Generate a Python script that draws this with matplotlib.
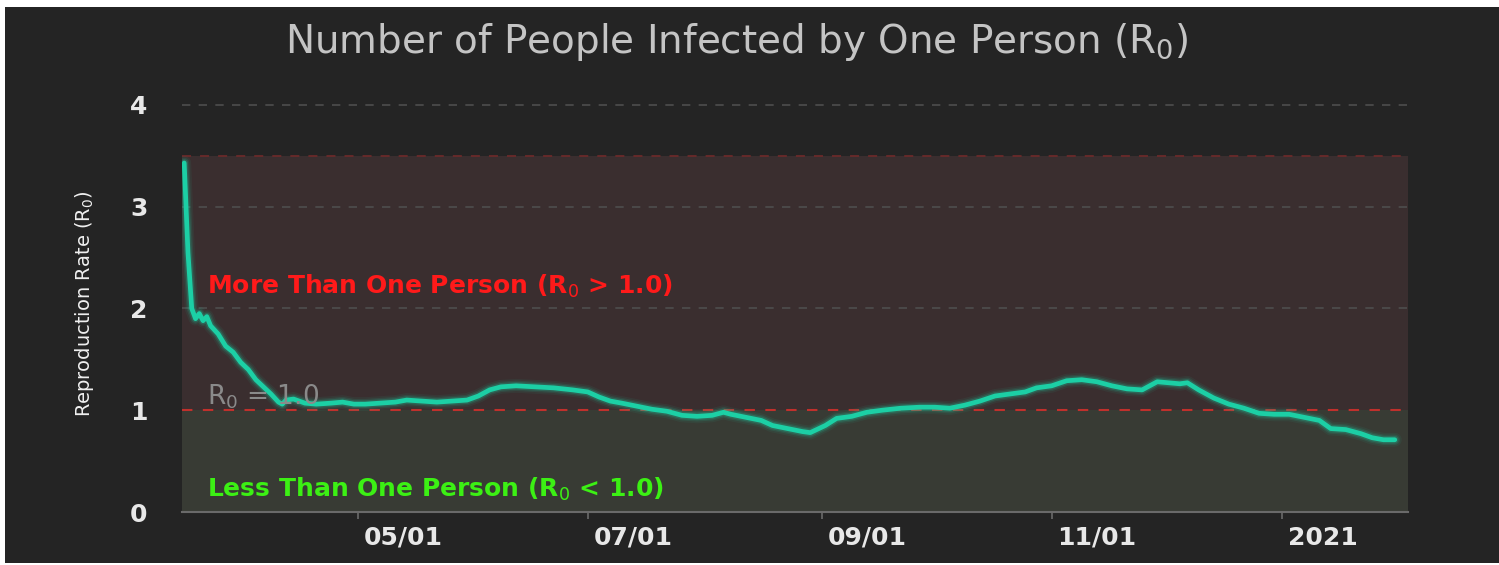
import matplotlib
matplotlib.use("Agg")
import matplotlib.pyplot as plt
from matplotlib.patches import Rectangle
from matplotlib.transforms import ScaledTranslation
import pandas as pd

dates = [
    "2020-03-16", "2020-03-17", "2020-03-18", "2020-03-19", "2020-03-20", "2020-03-21",
    "2020-03-22", "2020-03-23", "2020-03-25", "2020-03-27", "2020-03-29", "2020-03-31",
    "2020-04-02", "2020-04-04", "2020-04-06", "2020-04-08", "2020-04-10", "2020-04-11",
    "2020-04-12", "2020-04-14", "2020-04-17", "2020-04-20", "2020-04-24", "2020-04-27",
    "2020-04-30", "2020-05-03", "2020-05-07", "2020-05-11", "2020-05-14", "2020-05-18",
    "2020-05-22", "2020-05-26", "2020-05-30", "2020-06-02", "2020-06-05", "2020-06-08",
    "2020-06-12", "2020-06-17", "2020-06-22", "2020-06-27", "2020-07-01", "2020-07-04",
    "2020-07-07", "2020-07-10", "2020-07-14", "2020-07-18", "2020-07-22", "2020-07-26",
    "2020-07-30", "2020-08-03", "2020-08-06", "2020-08-08", "2020-08-12", "2020-08-16",
    "2020-08-19", "2020-08-23", "2020-08-27", "2020-08-29", "2020-09-02", "2020-09-05",
    "2020-09-09", "2020-09-13", "2020-09-17", "2020-09-22", "2020-09-27", "2020-10-01",
    "2020-10-05", "2020-10-09", "2020-10-13", "2020-10-17", "2020-10-21", "2020-10-25",
    "2020-10-28", "2020-11-01", "2020-11-05", "2020-11-09", "2020-11-13", "2020-11-17",
    "2020-11-21", "2020-11-25", "2020-11-29", "2020-12-02", "2020-12-05", "2020-12-07",
    "2020-12-10", "2020-12-14", "2020-12-18", "2020-12-22", "2020-12-26", "2020-12-30",
    "2021-01-03", "2021-01-07", "2021-01-11", "2021-01-14", "2021-01-18", "2021-01-22",
    "2021-01-25", "2021-01-28", "2021-01-31",
]
r0_values = [
    3.43, 2.55, 2.00, 1.90, 1.95, 1.88,
    1.92, 1.83, 1.75, 1.63, 1.57, 1.47,
    1.40, 1.30, 1.23, 1.16, 1.08, 1.06,
    1.10, 1.11, 1.07, 1.06, 1.07, 1.08,
    1.06, 1.06, 1.07, 1.08, 1.10, 1.09,
    1.08, 1.09, 1.10, 1.14, 1.20, 1.23,
    1.24, 1.23, 1.22, 1.20, 1.18, 1.13,
    1.09, 1.07, 1.04, 1.01, 0.99, 0.95,
    0.94, 0.95, 0.98, 0.96, 0.93, 0.90,
    0.85, 0.82, 0.79, 0.78, 0.85, 0.92,
    0.94, 0.98, 1.00, 1.02, 1.03, 1.03,
    1.02, 1.05, 1.09, 1.14, 1.16, 1.18,
    1.22, 1.24, 1.29, 1.30, 1.28, 1.24,
    1.21, 1.20, 1.28, 1.27, 1.26, 1.27,
    1.20, 1.12, 1.06, 1.02, 0.97, 0.96,
    0.96, 0.93, 0.90, 0.82, 0.81, 0.77,
    0.73, 0.71, 0.71,
]
y_ticks = [0, 1, 2, 3, 4]
x_tick_dates = ["2020-05-01", "2020-07-01", "2020-09-01", "2020-11-01", "2021-01-01"]
x_tick_labels = ["05/01", "07/01", "09/01", "11/01", "2021"]
threshold = 1.0
upper_zone = 3.5

x = pd.to_datetime(dates)

W, H = 1499, 565
fig = plt.figure(figsize=(W / 100, H / 100), dpi=100, facecolor="white")
fig.patches.append(Rectangle((5 / W, 2 / H), 1 - 5 / W, (563 - 7) / H,
                             transform=fig.transFigure, facecolor="#242424",
                             edgecolor="none", zorder=-10))

ax = fig.add_axes([182 / W, 1 - 512 / H, (1408 - 182) / W, (512 - 94.8) / H])
ax.set_zorder(1)
ax.set_facecolor("none")
ax.set_xlim(pd.Timestamp("2020-03-15 10:00"), pd.Timestamp("2021-02-03 12:00"))
ax.set_ylim(0, 4.1)

ax.axhspan(threshold, upper_zone, facecolor="#3a2e2f", edgecolor="none", zorder=0)
ax.axhspan(0, threshold, facecolor="#383b34", edgecolor="none", zorder=0)

for yv in [2, 3, 4]:
    ax.axhline(yv, color="#4e4e4e", lw=1.2, ls=(0, (5, 5)), zorder=1)
ax.axhline(upper_zone, color="#6a2a2a", lw=1.3, ls=(0, (5, 5)), zorder=1)
ax.axhline(threshold, color="#c0302c", lw=1.5, ls=(0, (5, 5)), zorder=1)

for lw, a in [(10, 0.07), (7.5, 0.12), (5.5, 0.22)]:
    ax.plot(x, r0_values, color="#1ec8a0", lw=lw, alpha=a, solid_capstyle="round",
            solid_joinstyle="round", zorder=2)
ax.plot(x, r0_values, color="#1ccfa5", lw=3.4, solid_capstyle="round",
        solid_joinstyle="round", zorder=3)

for s in ["top", "right", "left"]:
    ax.spines[s].set_visible(False)
ax.spines["bottom"].set_color("#6a6a6a")
ax.spines["bottom"].set_linewidth(1.5)

ax.set_yticks(y_ticks)
ax.set_yticklabels([str(t) for t in y_ticks])
ax.tick_params(axis="y", length=0, pad=25, labelcolor="#e8e8e8", labelsize=18)
ax.set_xticks(pd.to_datetime(x_tick_dates))
ax.set_xticklabels(x_tick_labels, ha="left")
ax.tick_params(axis="x", length=5, width=1.2, color="#6a6a6a", pad=5,
               labelcolor="#e8e8e8", labelsize=18)
shift = ScaledTranslation(6 / 100, 0, fig.dpi_scale_trans)
for lab in ax.get_xticklabels():
    lab.set_transform(lab.get_transform() + shift)
for lab in ax.get_xticklabels() + ax.get_yticklabels():
    lab.set_family(["DejaVu Sans"])
    lab.set_fontweight("bold")

ax.set_ylabel("Reproduction Rate (R$_0$)", color="#f0f0f0", fontsize=14,
              family=["Liberation Sans Narrow", "DejaVu Sans"], labelpad=24)

fig.text(737 / W, 1 - 42 / H, "Number of People Infected by One Person (R$_0$)",
         ha="center", va="center", color="#c4c4c4", fontsize=28,
         family=["DejaVu Sans"])

ax.text(pd.Timestamp("2020-03-22"), 2.22, "More Than One Person (R$_0$ > 1.0)",
        color="#ff1a1a", fontsize=18, fontweight="bold", va="center", ha="left",
        family=["DejaVu Sans"], zorder=4)
ax.text(pd.Timestamp("2020-03-22"), 0.22, "Less Than One Person (R$_0$ < 1.0)",
        color="#3cf014", fontsize=18, fontweight="bold", va="center", ha="left",
        family=["DejaVu Sans"], zorder=4)
ax.text(pd.Timestamp("2020-03-22"), 1.13, "R$_0$ = 1.0",
        color="#8a8a8a", fontsize=19, va="center", ha="left",
        family=["DejaVu Sans"], zorder=4)

fig.savefig("out.png", dpi=100, facecolor="white")
